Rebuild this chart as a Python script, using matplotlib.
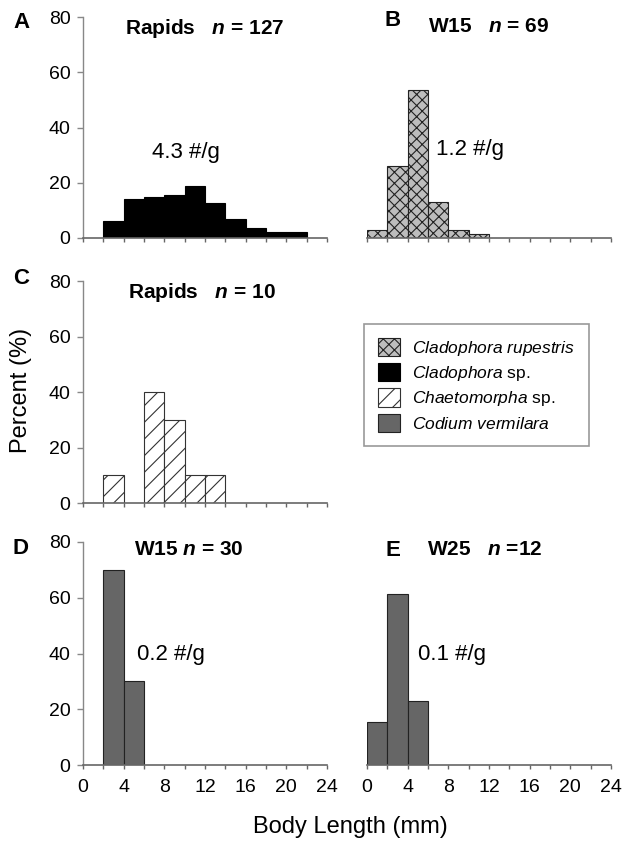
import numpy as np
import matplotlib
matplotlib.use('Agg')
import matplotlib.pyplot as plt
from matplotlib.patches import Patch

plt.rcParams['font.family'] = ['Liberation Sans', 'DejaVu Sans']
plt.rcParams['mathtext.fontset'] = 'custom'
plt.rcParams['mathtext.rm'] = 'Liberation Sans'
plt.rcParams['mathtext.it'] = 'Liberation Sans:italic'
plt.rcParams['mathtext.bf'] = 'Liberation Sans:bold'
plt.rcParams['mathtext.bfit'] = 'Liberation Sans:italic:bold'
plt.rcParams['hatch.linewidth'] = 0.8

# body length bins (left edges, mm)
bins = [0, 2, 4, 6, 8, 10, 12, 14, 16, 18, 20, 22]
xticks = list(range(0, 25, 2))
xticklabels = [str(t) if t % 4 == 0 else '' for t in xticks]
yticks = [0, 20, 40, 60, 80]

# percent per bin
rapids_cladophora = [0, 6.2, 14.0, 14.8, 15.6, 18.8, 12.5, 7.0, 3.8, 2.3, 2.3, 0]
w15_rupestris = [2.9, 26.1, 53.6, 13.0, 2.9, 1.4, 0, 0, 0, 0, 0, 0]
rapids_chaetomorpha = [0, 10, 0, 40, 30, 10, 10, 0, 0, 0, 0, 0]
w15_codium = [0, 70, 30, 0, 0, 0, 0, 0, 0, 0, 0, 0]
w25_codium = [15.5, 61.5, 23, 0, 0, 0, 0, 0, 0, 0, 0, 0]

species = ['$\\mathit{Cladophora\\ rupestris}$', '$\\mathit{Cladophora}$ sp.',
           '$\\mathit{Chaetomorpha}$ sp.', '$\\mathit{Codium\\ vermilara}$']

styles = {
    'rup': dict(facecolor='#bdbdbd', edgecolor='#222222', hatch='xxx'),
    'clad': dict(facecolor='black', edgecolor='black'),
    'chaet': dict(facecolor='white', edgecolor='#333333', hatch='//'),
    'cod': dict(facecolor='#666666', edgecolor='#222222'),
}

fig = plt.figure(figsize=(6.23, 8.41), dpi=100)
W, H = 623.0, 841.0


def make_ax(left, top, right, bottom):
    return fig.add_axes([left / W, 1 - bottom / H, (right - left) / W, (bottom - top) / H])


panels = [
    # letter, (l, t, r, b), data, style, title, title pos, density, density pos, show y, show x labels
    ('A', (83, 17, 327, 238), rapids_cladophora, 'clad', 'Rapids   $\\mathbfit{n}$ = 127', (0.5, 0.946), '4.3 #/g', (10.1, 31), True, False),
    ('B', (367, 17, 611, 238), w15_rupestris, 'rup', 'W15   $\\mathbfit{n}$ = 69', (0.5, 0.955), '1.2 #/g', (10.1, 32), False, False),
    ('C', (83, 281, 327, 503), rapids_chaetomorpha, 'chaet', 'Rapids   $\\mathbfit{n}$ = 10', (0.488, 0.949), None, None, True, False),
    ('D', (83, 542, 327, 765), w15_codium, 'cod', 'W15 $\\mathbfit{n}$ = 30', (0.432, 0.965), '0.2 #/g', (8.65, 39.5), True, True),
    ('E', (367, 542, 611, 765), w25_codium, 'cod', 'W25   $\\mathbfit{n}$ =12', (0.484, 0.965), '0.1 #/g', (8.4, 39.5), False, True),
]

letter_pos = {'A': (22, 22), 'B': (393, 21), 'C': (21, 279), 'D': (21, 549), 'E': (393, 550)}

for letter, box, vals, st, title, tpos, dens, dpos, showy, showx in panels:
    ax = make_ax(*box)
    xs = [b for b, v in zip(bins, vals) if v > 0]
    hs = [v for v in vals if v > 0]
    ax.bar(xs, hs, width=2, align='edge', linewidth=0.8, **styles[st])
    ax.set_xlim(0, 24)
    ax.set_ylim(0, 80)
    ax.spines['top'].set_visible(False)
    ax.spines['right'].set_visible(False)
    ax.spines['bottom'].set_color('#666666')
    ax.spines['bottom'].set_linewidth(1.2)
    ax.set_xticks(xticks)
    ax.tick_params(axis='x', length=3, width=1, color='#666666', labelsize=14, pad=7)
    if showx:
        ax.set_xticklabels(xticklabels)
    else:
        ax.set_xticklabels([])
    if showy:
        ax.spines['left'].set_color('#888888')
        ax.spines['left'].set_linewidth(1)
        ax.set_yticks(yticks)
        ax.tick_params(axis='y', length=4, width=1, color='#888888', labelsize=14, pad=5)
    else:
        ax.spines['left'].set_visible(False)
        ax.set_yticks([])
    ax.patch.set_alpha(0)
    ax.text(tpos[0], tpos[1], title, transform=ax.transAxes, ha='center', va='center',
            fontsize=15, fontweight='bold')
    if dens:
        ax.text(dpos[0], dpos[1], dens, ha='center', va='center', fontsize=16)
    lx, ly = letter_pos[letter]
    fig.text(lx / W, 1 - ly / H, letter, ha='center', va='center', fontsize=16, fontweight='bold')

fig.text(21 / W, 1 - 390 / H, 'Percent (%)', rotation=90, ha='center', va='center', fontsize=17)
fig.text(350 / W, 1 - 827 / H, 'Body Length (mm)', ha='center', va='center', fontsize=17)

handles = [Patch(linewidth=0.8, **styles[k]) for k in ['rup', 'clad', 'chaet', 'cod']]
leg = fig.legend(handles, species, loc='upper left', bbox_to_anchor=(364 / W, 1 - 324 / H),
                 borderaxespad=0, fontsize=12.5, handlelength=1.25, handleheight=1.25,
                 handletextpad=0.7, labelspacing=0.3, borderpad=0.8, fancybox=False,
                 framealpha=1, edgecolor='#999999')
leg.get_frame().set_linewidth(1.2)

fig.savefig('out.png', dpi=100)
